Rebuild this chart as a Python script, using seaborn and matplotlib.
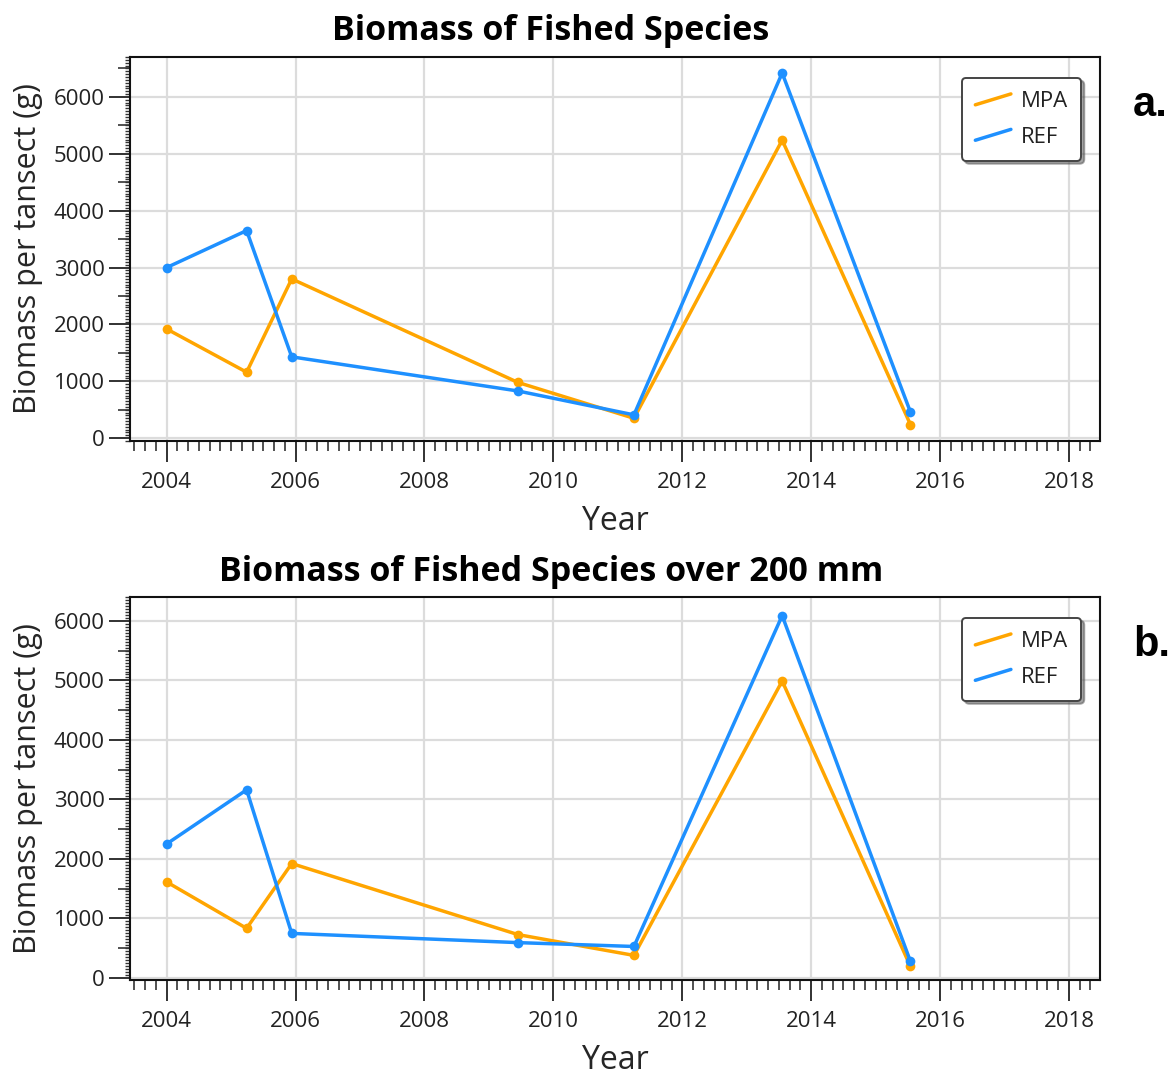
import matplotlib
matplotlib.use("Agg")
import matplotlib.pyplot as plt
from matplotlib.ticker import MultipleLocator, NullLocator
from matplotlib.lines import Line2D
from matplotlib.legend_handler import HandlerBase
import numpy as np
import pandas as pd
import seaborn as sns

# survey years (fractional)
years = [2004.0, 2005.24, 2005.94, 2009.45, 2011.25, 2013.55, 2015.54]

# panel a: all fished species
mpa_all = [1920, 1160, 2800, 980, 350, 5240, 240]
ref_all = [3000, 3650, 1430, 830, 410, 6420, 460]

# panel b: fished species over 200 mm
mpa_200 = [1610, 830, 1920, 725, 375, 4990, 190]
ref_200 = [2250, 3160, 745, 590, 525, 6090, 275]

sites = ["MPA", "REF"]
colors = {"MPA": "#FFA500", "REF": "#1E90FF"}
titles = ["Biomass of Fished Species", "Biomass of Fished Species over 200 mm"]
panel_tags = ["a.", "b."]
ylims = [(-50, 6700), (-40, 6400)]

sns.set_style("white")
plt.rcParams["font.family"] = ["Open Sans", "DejaVu Sans"]


class DiagHandler(HandlerBase):
    # legend key drawn as a short slanted line, like the original
    def create_artists(self, legend, orig_handle, xdescent, ydescent,
                       width, height, fontsize, trans):
        ln = Line2D([-xdescent, width - xdescent],
                    [0.15 * height - ydescent, 0.85 * height - ydescent],
                    color=orig_handle.get_color(), linewidth=2.5,
                    solid_capstyle="round")
        ln.set_transform(trans)
        return [ln]


def long_df(mpa, ref):
    return pd.DataFrame({
        "Year": years * 2,
        "Biomass": mpa + ref,
        "Site": ["MPA"] * len(years) + ["REF"] * len(years),
    })


fig = plt.figure(figsize=(11.75, 10.77), dpi=100)
ax_a = fig.add_axes([0.1106, 0.5905, 0.8255, 0.3565])
ax_b = fig.add_axes([0.1106, 0.0900, 0.8255, 0.3555])

for ax, (mpa, ref), title, tag, ylim in zip(
        [ax_a, ax_b], [(mpa_all, ref_all), (mpa_200, ref_200)], titles, panel_tags, ylims):
    df = long_df(mpa, ref)
    sns.lineplot(data=df, x="Year", y="Biomass", hue="Site", hue_order=sites,
                 palette=colors, marker="o", markersize=7, markeredgewidth=0,
                 linewidth=2.5, ax=ax, sort=False)

    ax.set_xlim(2003.43, 2018.48)
    ax.set_ylim(*ylim)
    ax.xaxis.set_major_locator(MultipleLocator(2))
    ax.xaxis.set_minor_locator(MultipleLocator(1 / 6))
    ax.yaxis.set_major_locator(MultipleLocator(1000))
    ax.yaxis.set_minor_locator(MultipleLocator(50))
    ax.grid(True, which="major", color="#dcdcdc", linewidth=1.6)
    ax.set_axisbelow(True)

    ax.tick_params(axis="both", which="major", direction="out", length=15, width=1.3,
                   labelsize=16, colors="#222222", bottom=True, left=True)
    ax.tick_params(axis="x", which="major", pad=7)
    ax.tick_params(axis="y", which="major", pad=3)
    ax.tick_params(axis="x", which="minor", direction="out", length=7.5, width=1.2,
                   bottom=True, colors="#333333")
    ax.tick_params(axis="y", which="minor", direction="out", length=3.5, width=1.0,
                   left=True, colors="#333333")
    for side in ["top", "right", "bottom", "left"]:
        ax.spines[side].set_visible(True)
        ax.spines[side].set_color("#111111")
        ax.spines[side].set_linewidth(1.5)

    # medium ticks at the half-thousand marks
    sec = ax.secondary_yaxis("left")
    sec.set_yticks([v for v in range(500, int(ylim[1]), 1000)])
    sec.tick_params(axis="y", which="major", direction="out", length=8.5, width=1.2,
                    labelleft=False, colors="#333333")
    sec.yaxis.set_minor_locator(NullLocator())
    sec.spines["left"].set_visible(False)

    ax.set_title(title, fontsize=24.5, fontweight="bold", pad=12,
                 x=(551 - 130) / 970, color="black")
    ax.set_xlabel("Year", fontsize=23, labelpad=9)
    ax.set_ylabel("Biomass per tansect (g)", fontsize=22)
    ax.yaxis.set_label_coords(-0.09, 0.5)

    leg = ax.legend(loc="upper right", bbox_to_anchor=(0.981, 0.946), fontsize=16,
                    frameon=True, fancybox=True, shadow=True, handlelength=1.6,
                    borderpad=0.6, labelspacing=0.65, handletextpad=0.45,
                    borderaxespad=0, handler_map={Line2D: DiagHandler()})
    leg.get_frame().set_edgecolor("#444444")
    leg.get_frame().set_linewidth(1.4)
    for t in leg.get_texts():
        t.set_color("#222222")

    ax.text(1.034, 0.875, tag, transform=ax.transAxes, fontsize=30, fontweight="bold",
            family="Liberation Sans", ha="left", va="center", color="black")

fig.savefig("out.png", dpi=100)
